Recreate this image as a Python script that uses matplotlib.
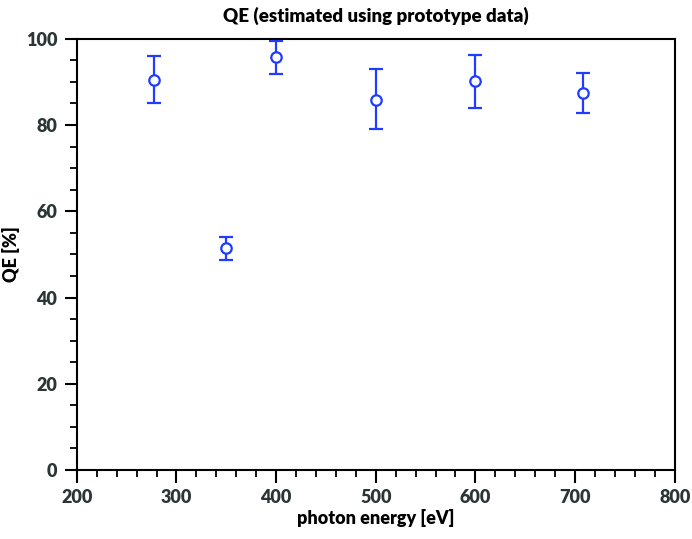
import matplotlib
matplotlib.use("Agg")
import matplotlib.pyplot as plt
from matplotlib.ticker import MultipleLocator

energy = [277, 350, 400, 500, 600, 708]
qe = [90.5, 51.5, 95.7, 85.8, 90.1, 87.4]
qe_err_low = [5.3, 2.8, 3.9, 6.8, 6.2, 4.6]
qe_err_high = [5.5, 2.6, 3.9, 7.3, 6.1, 4.6]

plt.rcParams['font.family'] = ['Lato', 'DejaVu Sans']
text_color = '#2b3535'

fig = plt.figure(figsize=(6.92, 5.39), dpi=100)
ax = fig.add_axes([0.111, 0.128, 0.864, 0.800])

ax.errorbar(energy, qe, yerr=[qe_err_low, qe_err_high], fmt='o', color='#1f3cff',
            mfc='white', mec='#1f3cff', ms=7.5, mew=1.6, elinewidth=1.6,
            capsize=5, capthick=1.6)

ax.set_xlim(200, 800)
ax.set_ylim(0, 100)
ax.xaxis.set_major_locator(MultipleLocator(100))
ax.xaxis.set_minor_locator(MultipleLocator(20))
ax.yaxis.set_major_locator(MultipleLocator(20))
ax.yaxis.set_minor_locator(MultipleLocator(5))
ax.tick_params(which='major', direction='out', length=9, width=1.5, colors='black',
               labelcolor=text_color, labelsize=13, pad=5)
ax.tick_params(which='minor', direction='out', length=5, width=1.3, colors='black')
ax.tick_params(top=False, right=False, which='both')
for lab in ax.get_xticklabels() + ax.get_yticklabels():
    lab.set_fontweight('heavy')
for s in ax.spines.values():
    s.set_linewidth(1.5)

ax.set_xlabel('photon energy [eV]', fontsize=13, fontweight='heavy', color='black', labelpad=2)
ax.set_ylabel('QE [%]', fontsize=13, fontweight='heavy', color='black', labelpad=4)
ax.set_title('QE (estimated using prototype data)', fontsize=13.5, fontweight='heavy',
             color='black', pad=12)

fig.savefig('out.png', dpi=100)
